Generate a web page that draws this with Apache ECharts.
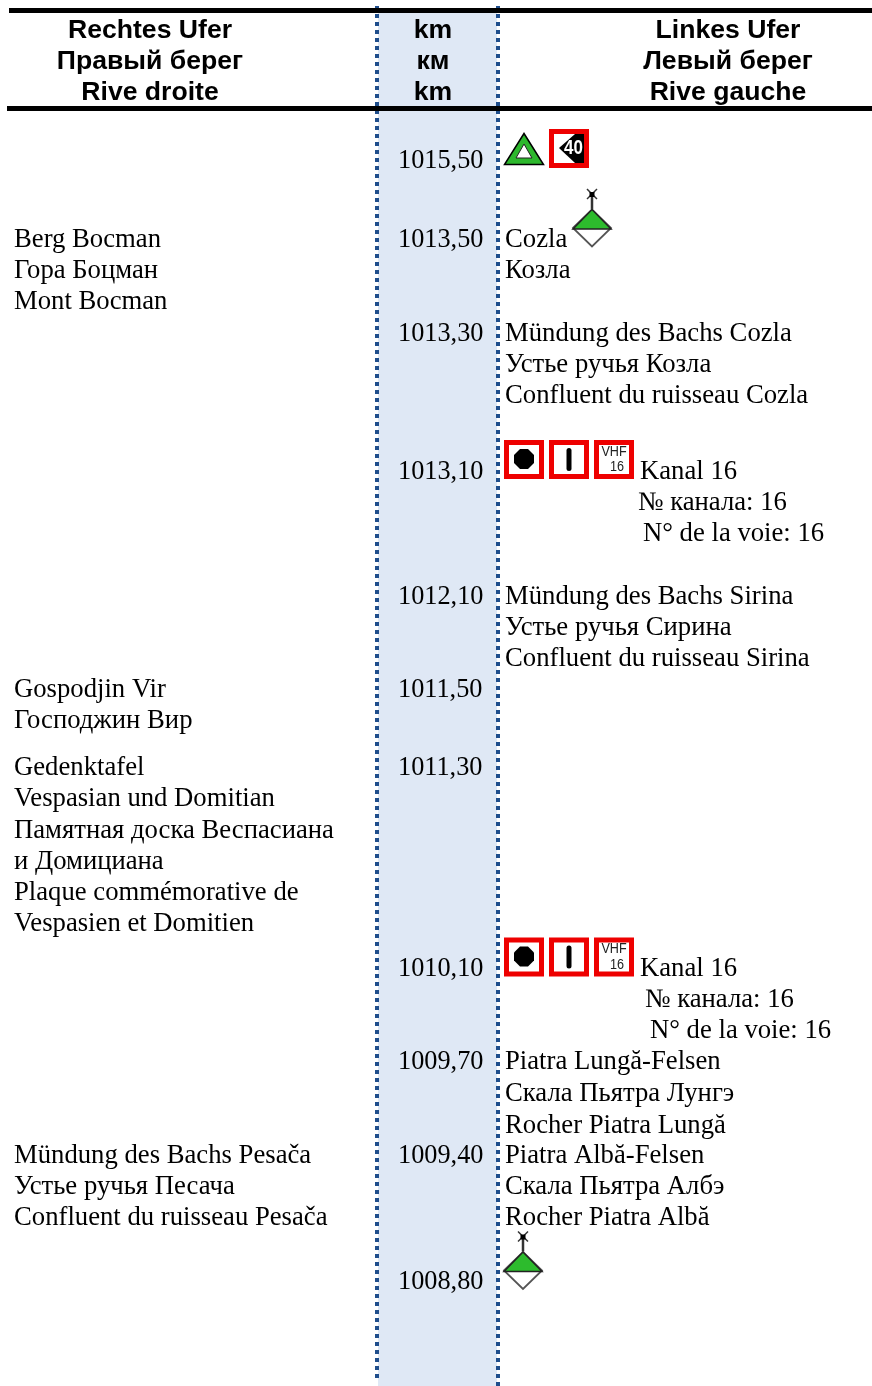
<!DOCTYPE html>
<html>
<head>
<meta charset="utf-8">
<style>html,body{margin:0;padding:0;background:#fff}</style>
<script src="https://cdn.jsdelivr.net/npm/echarts@6/dist/echarts.min.js"></script>
</head>
<body>
<div id="main" style="width:872px;height:1386px;"></div>
<script>
// column headings
var headRight = ['Rechtes Ufer', 'Правый берег', 'Rive droite'];
var headKm = ['km', 'км', 'km'];
var headLeft = ['Linkes Ufer', 'Левый берег', 'Rive gauche'];
var headRows = [30.5, 61.5, 92.5];

// kilometre column
var kmLabels = ['1015,50', '1013,50', '1013,30', '1013,10', '1012,10', '1011,50', '1011,30', '1010,10', '1009,70', '1009,40', '1008,80'];
var kmRows = [161, 240, 334, 472, 597, 690, 768, 969, 1062, 1156, 1282];

// right bank column
var rightLines = ['Berg Bocman', 'Гора Боцман', 'Mont Bocman',
    'Gospodjin Vir', 'Господжин Вир',
    'Gedenktafel', 'Vespasian und Domitian', 'Памятная доска Веспасиана', 'и Домициана', 'Plaque commémorative de', 'Vespasien et Domitien',
    'Mündung des Bachs Pesača', 'Устье ручья Песача', 'Confluent du ruisseau Pesača'];
var rightRows = [240, 271, 302, 690, 721, 768, 799, 831, 862, 893, 924, 1156, 1187, 1218];

// left bank column
var leftLines = ['Cozla', 'Козла',
    'Mündung des Bachs Cozla', 'Устье ручья Козла', 'Confluent du ruisseau Cozla',
    'Mündung des Bachs Sirina', 'Устье ручья Сирина', 'Confluent du ruisseau Sirina',
    'Piatra Lungă-Felsen', 'Скала Пьятра Лунгэ', 'Rocher Piatra Lungă',
    'Piatra Albă-Felsen', 'Скала Пьятра Албэ', 'Rocher Piatra Albă'];
var leftRows = [240, 271, 334, 365, 396, 597, 628, 659, 1062, 1094, 1126, 1156, 1187, 1218];

// radio notes beside the VHF signs
var radioLines = ['Kanal 16', '№ канала: 16', 'N° de la voie: 16', 'Kanal 16', '№ канала: 16', 'N° de la voie: 16'];
var radioCols = [640, 638, 643, 640, 645, 650];
var radioRows = [472, 503, 534, 969, 1000, 1031];

// signs: kind, centre column, centre row
var signKinds = ['triangle', 'limit40', 'buoy', 'stop', 'bar', 'vhf', 'stop', 'bar', 'vhf', 'buoy'];
var signCols = [524, 569, 592, 524, 569, 614, 524, 569, 614, 523];
var signRows = [149, 148.5, 228, 459.5, 459.5, 459.5, 957, 957, 957, 1270.5];

var colRight = 14, colKm = 398, colLeft = 505;
var headRightMid = 150, headKmMid = 433, headLeftMid = 728;
var bodyFont = '26.7px "Liberation Serif"';
var kmFont = '26.3px "Liberation Serif"';
var headFont = 'bold 26.6px "Liberation Sans"';

function pairs(xs, ys) {
    return xs.map(function (x, i) { return [x, ys[i]]; });
}
function fixed(x, ys) {
    return ys.map(function (y) { return [x, y]; });
}

// one custom series per text block
function textSeries(points, texts, font, align) {
    return {
        type: 'custom',
        coordinateSystem: 'cartesian2d',
        silent: true,
        z: 5,
        data: points,
        renderItem: function (params, api) {
            var p = api.coord([api.value(0), api.value(1)]);
            return {
                type: 'text',
                x: p[0],
                y: p[1],
                style: {
                    text: texts[params.dataIndex],
                    font: font,
                    fill: '#000',
                    align: align,
                    verticalAlign: 'middle'
                }
            };
        }
    };
}

function redBox(children) {
    return [{
        type: 'rect',
        shape: { x: -17.5, y: -17, width: 35, height: 34 },
        style: { fill: '#fff', stroke: '#ee0000', lineWidth: 5 }
    }].concat(children);
}

function signChildren(kind) {
    if (kind === 'triangle') {
        return [
            { type: 'polygon', shape: { points: [[0, -15.5], [19.5, 15.5], [-19.5, 15.5]] }, style: { fill: '#2db82d', stroke: '#000', lineWidth: 1.5 } },
            { type: 'polygon', shape: { points: [[0, -5], [8, 9], [-8, 9]] }, style: { fill: '#fff', stroke: '#222', lineWidth: 1 } }
        ];
    }
    if (kind === 'limit40') {
        return redBox([
            { type: 'polygon', shape: { points: [[-10, -0.5], [6, -14.5], [15, -14.5], [15, 14.5], [6, 14.5]] }, style: { fill: '#000' } },
            { type: 'text', x: 4.5, y: 0, scaleX: 0.85, style: { text: '40', font: 'bold 20px "Liberation Sans"', fill: '#fff', align: 'center', verticalAlign: 'middle' } }
        ]);
    }
    if (kind === 'buoy') {
        return [
            { type: 'line', shape: { x1: 0, y1: -19, x2: 0, y2: -34 }, style: { stroke: '#333', lineWidth: 2.5 } },
            { type: 'line', shape: { x1: -5, y1: -39, x2: 5, y2: -29 }, style: { stroke: '#333', lineWidth: 1.5 } },
            { type: 'line', shape: { x1: 5, y1: -39, x2: -5, y2: -29 }, style: { stroke: '#333', lineWidth: 1.5 } },
            { type: 'rect', shape: { x: -2.5, y: -36, width: 5, height: 5 }, style: { fill: '#000' } },
            { type: 'polygon', shape: { points: [[-19, 0], [0, -18.5], [19, 0], [0, 18.5]] }, style: { fill: '#fff', stroke: '#555', lineWidth: 1.8 } },
            { type: 'polygon', shape: { points: [[-19, 1], [0, -18.5], [19, 1]] }, style: { fill: '#2dbb2d', stroke: '#222', lineWidth: 1.5 } }
        ];
    }
    if (kind === 'stop') {
        return redBox([
            { type: 'polygon', shape: { points: [[-4, -10.5], [4, -10.5], [10, -4.5], [10, 3.5], [4, 9.5], [-4, 9.5], [-10, 3.5], [-10, -4.5]] }, style: { fill: '#000' } }
        ]);
    }
    if (kind === 'bar') {
        return redBox([
            { type: 'rect', shape: { x: -2.5, y: -11.5, width: 5, height: 23, r: 2.5 }, style: { fill: '#000' } }
        ]);
    }
    return redBox([
        { type: 'text', x: 0, y: -7.5, scaleX: 0.9, style: { text: 'VHF', font: '14px "Liberation Sans"', fill: '#222', align: 'center', verticalAlign: 'middle' } },
        { type: 'text', x: 3, y: 8, scaleX: 0.9, style: { text: '16', font: '14px "Liberation Sans"', fill: '#222', align: 'center', verticalAlign: 'middle' } }
    ]);
}

var myChart = echarts.init(document.getElementById('main'));
var option = {
    animation: false,
    backgroundColor: '#fff',
    grid: { left: 0, right: 0, top: 0, bottom: 0 },
    xAxis: { type: 'value', min: 0, max: 872, show: false },
    yAxis: { type: 'value', min: 0, max: 1386, inverse: true, show: false },
    series: [
        {
            // shaded km column
            type: 'custom',
            silent: true,
            z: 1,
            data: [[378, 8, 497, 1386]],
            renderItem: function (params, api) {
                var a = api.coord([api.value(0), api.value(1)]);
                var b = api.coord([api.value(2), api.value(3)]);
                return { type: 'rect', shape: { x: a[0], y: a[1], width: b[0] - a[0], height: b[1] - a[1] }, style: { fill: '#dfe8f5' } };
            }
        },
        {
            type: 'line', silent: true, symbol: 'none', z: 2,
            data: [[377, 6], [377, 1380]],
            lineStyle: { color: '#1f4e8c', width: 4, type: [4, 4] }
        },
        {
            type: 'line', silent: true, symbol: 'none', z: 2,
            data: [[498, 6], [498, 1386]],
            lineStyle: { color: '#1f4e8c', width: 4, type: [4, 4] }
        },
        {
            type: 'line', silent: true, symbol: 'none', z: 3,
            data: [[9, 10.5], [872, 10.5]],
            lineStyle: { color: '#000', width: 5 }
        },
        {
            type: 'line', silent: true, symbol: 'none', z: 3,
            data: [[7, 108.5], [872, 108.5]],
            lineStyle: { color: '#000', width: 5 }
        },
        textSeries(fixed(headRightMid, headRows), headRight, headFont, 'center'),
        textSeries(fixed(headKmMid, headRows), headKm, headFont, 'center'),
        textSeries(fixed(headLeftMid, headRows), headLeft, headFont, 'center'),
        textSeries(fixed(colKm, kmRows), kmLabels, kmFont, 'left'),
        textSeries(fixed(colRight, rightRows), rightLines, bodyFont, 'left'),
        textSeries(fixed(colLeft, leftRows), leftLines, bodyFont, 'left'),
        textSeries(pairs(radioCols, radioRows), radioLines, bodyFont, 'left'),
        {
            // river signs
            type: 'custom',
            silent: true,
            z: 6,
            data: pairs(signCols, signRows),
            renderItem: function (params, api) {
                var p = api.coord([api.value(0), api.value(1)]);
                return { type: 'group', x: p[0], y: p[1], children: signChildren(signKinds[params.dataIndex]) };
            }
        }
    ]
};
myChart.setOption(option);
</script>
</body>
</html>
